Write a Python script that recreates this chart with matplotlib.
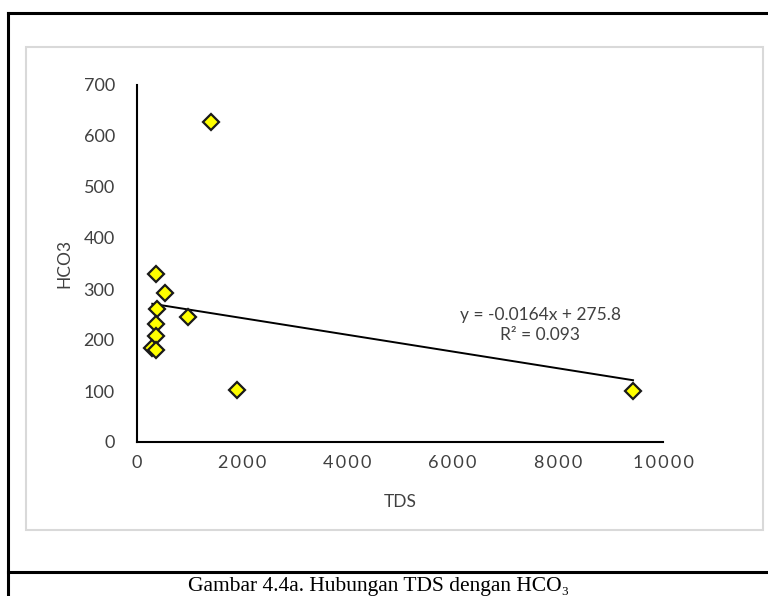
import matplotlib.pyplot as plt
from matplotlib.patches import Rectangle
from matplotlib.lines import Line2D

# data
tds = [1400, 360, 530, 380, 970, 360, 360, 290, 370, 1900, 9430]
hco3 = [628, 330, 292, 260, 245, 232, 207, 185, 180, 102, 100]

# trendline coefficients (from the chart label)
slope = -0.0164
intercept = 275.8

xticks = [0, 2000, 4000, 6000, 8000, 10000]
yticks = [0, 100, 200, 300, 400, 500, 600, 700]

fig = plt.figure(figsize=(7.68, 5.96), dpi=100)
W, H = 768, 596

# outer document frame
fig.add_artist(Line2D([8 / W, 8 / W], [0, 1 - 13 / H], color='black', lw=2.2, transform=fig.transFigure))
fig.add_artist(Line2D([8 / W, 1], [1 - 13 / H, 1 - 13 / H], color='black', lw=2.2, transform=fig.transFigure))
fig.add_artist(Line2D([8 / W, 1], [1 - 572 / H, 1 - 572 / H], color='black', lw=2.2, transform=fig.transFigure))

# grey chart area border
fig.add_artist(Rectangle((26 / W, 1 - 530 / H), (763 - 26) / W, (530 - 47) / H,
                         fill=False, edgecolor='#d9d9d9', lw=1.5, transform=fig.transFigure))

ax = fig.add_axes([137 / W, 1 - 442 / H, (663 - 137) / W, (442 - 85) / H])

ax.plot(tds, hco3, linestyle='none', marker='D', markersize=8.5,
        markerfacecolor='#ffff00', markeredgecolor='#1a1a1a', markeredgewidth=1.6, zorder=3)

xline = [min(tds), max(tds)]
yline = [slope * x + intercept for x in xline]
ax.plot(xline, yline, color='black', lw=1.4, zorder=2)

ax.set_xlim(0, 10000)
ax.set_ylim(0, 700)
ax.set_xticks(xticks)
ax.set_yticks(yticks)
ax.set_xticklabels(['\u2009'.join(str(t)) for t in xticks])
ax.tick_params(length=0, labelsize=13, colors='#404040', pad=9)
ax.tick_params(axis='y', pad=16)
for s in ['top', 'right']:
    ax.spines[s].set_visible(False)
for s in ['left', 'bottom']:
    ax.spines[s].set_linewidth(1.5)
    ax.spines[s].set_color('black')

for lab in ax.get_xticklabels() + ax.get_yticklabels():
    lab.set_fontfamily(['Lato', 'DejaVu Sans'])

fig.text(400 / W, 1 - 502 / H, 'TDS', ha='center', va='center', fontsize=12.5,
         color='#404040', family='Lato')
fig.text(64 / W, 1 - 263 / H, 'HCO3', ha='center', va='center', fontsize=12.5,
         color='#404040', family='Lato', rotation=90)

fig.text(540 / W, 1 - 315 / H, 'y = -0.0164x + 275.8', ha='center', va='center',
         fontsize=12.5, color='#404040', family='Lato')
fig.text(540 / W, 1 - 335 / H, 'R\u00b2 = 0.093', ha='center', va='center',
         fontsize=12.5, color='#404040', family='Lato')

fig.text(379 / W, 1 - 586 / H, 'Gambar 4.4a. Hubungan TDS dengan HCO\u2083', ha='center', va='center',
         fontsize=15.5, family=['Liberation Serif', 'DejaVu Serif'], color='black')

fig.savefig('out.png', dpi=100)
